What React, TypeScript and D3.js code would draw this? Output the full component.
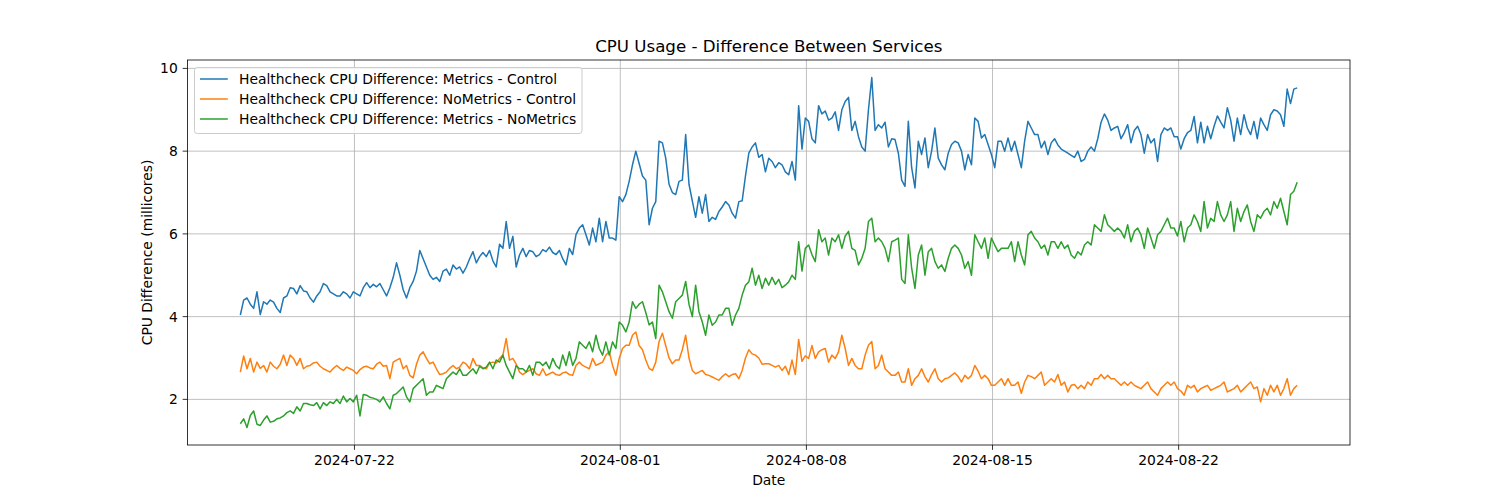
import React, { useEffect, useRef } from 'react';
import * as d3 from 'd3';

const width = 1500;
const height = 500;
const margin = { left: 187.5, right: 150, top: 60, bottom: 55 };

// one sample every 3 hours, first one 2024-07-17 17:00 UTC
const startTime = Date.UTC(2024, 6, 17, 17);
const stepMs = 3 * 3600 * 1000;

const metricsControl = [
  4.04, 4.4, 4.45, 4.3, 4.2, 4.6, 4.05, 4.36, 4.3, 4.4,
  4.35, 4.2, 4.1, 4.45, 4.5, 4.7, 4.68, 4.55, 4.75, 4.62,
  4.6, 4.45, 4.35, 4.5, 4.6, 4.8, 4.75, 4.6, 4.55, 4.5,
  4.5, 4.6, 4.55, 4.45, 4.6, 4.55, 4.5, 4.7,
  4.82, 4.7, 4.78, 4.72, 4.8, 4.65, 4.5, 4.7, 4.95, 5.3,
  5.0, 4.65, 4.45, 4.7, 4.85, 5.1, 5.6, 5.4, 5.2, 5.0,
  4.9, 4.95, 4.85, 5.1, 5.15, 5.0, 5.25, 5.15, 5.2, 5.05,
  5.2, 5.4, 5.57, 5.3, 5.45, 5.55, 5.45, 5.6, 5.35, 5.2,
  5.75, 5.65, 6.3, 5.65, 5.94, 5.2, 5.49, 5.65, 5.45, 5.6,
  5.57, 5.45, 5.5, 5.62, 5.57, 5.68, 5.55, 5.5, 5.6, 5.4,
  5.25, 5.65, 5.5, 5.98, 6.14, 6.22, 5.98, 5.73, 6.14, 5.81,
  6.38, 5.81, 6.3, 5.9, 5.9, 5.85, 6.9, 6.78, 6.95, 7.27,
  7.67, 8.0,
  7.7, 7.4, 7.3, 6.22, 6.62, 6.78, 8.24, 8.2, 7.83, 7.2,
  7.0, 6.95, 7.27, 7.3, 8.4, 7.2, 6.8, 6.4, 6.9, 6.5,
  6.95, 6.3, 6.4, 6.35, 6.54, 6.65, 6.78, 6.7, 6.5, 6.38,
  6.78, 6.8, 7.4, 7.95, 8.1, 8.2, 7.85, 7.92, 7.5, 7.83,
  7.75, 7.6, 7.72, 7.67, 7.5, 7.43, 7.75, 7.3, 9.1, 8.05,
  8.8, 8.72, 8.3, 8.2, 9.1, 8.9, 8.97, 8.75, 8.8, 8.95,
  8.5, 9.0, 9.2, 9.3, 8.5, 8.72, 8.35, 8.1, 8.0, 9.0,
  9.78, 8.5, 8.64, 8.56, 8.7, 8.1, 8.3, 8.28, 7.95, 7.3,
  7.15, 8.72, 7.6, 7.11, 8.24, 7.92, 8.32, 7.6, 8.0, 8.56,
  7.83, 7.67, 7.55, 7.95, 8.16, 8.24, 8.2, 8.0, 7.55, 7.92,
  7.67, 8.8, 8.72, 8.32, 8.4, 8.16, 7.92, 7.6, 8.24, 8.24,
  8.0, 8.32, 8.0, 8.24, 7.92, 7.6, 8.24, 8.72, 8.56, 8.4,
  8.4, 8.08, 8.24, 7.92, 8.2, 8.3, 8.15, 8.05, 8.0, 7.95,
  7.9, 7.85, 8.0, 7.75, 7.8, 8.0, 8.1, 8.0, 8.3, 8.7,
  8.9, 8.75, 8.5, 8.56, 8.6, 8.3, 8.45, 8.64, 8.2, 8.5,
  8.6, 8.4, 7.95, 8.4, 8.2, 8.3, 7.75, 8.4, 8.56, 8.5,
  8.56, 8.35,
  8.35, 8.05, 8.3, 8.45, 8.5, 8.84, 8.2, 8.7, 8.2, 8.6,
  8.3, 8.6, 8.85, 8.7, 8.56, 9.05, 8.75, 8.24, 8.8, 8.4,
  8.88, 8.56, 8.4, 8.72, 8.3, 8.8, 8.64, 8.5, 8.88, 9.0,
  8.97, 8.88, 8.6, 9.5, 9.15, 9.5, 9.53,
];

const noMetricsControl = [
  2.66, 3.05, 2.74, 2.99, 2.66, 2.9, 2.75, 2.82, 2.66, 2.9,
  2.8, 2.74, 2.85, 3.07, 2.82, 3.07, 2.99, 2.82, 2.99, 2.74,
  2.8, 2.82, 2.88, 2.9, 2.8, 2.74, 2.7, 2.66, 2.75, 2.82,
  2.75, 2.7, 2.78, 2.74, 2.7, 2.62, 2.72, 2.78,
  2.8, 2.76, 2.74, 2.85, 2.9, 2.8, 2.82, 2.5, 2.9, 2.95,
  2.99, 2.74, 2.82, 2.58, 2.52, 2.85, 3.07, 3.15, 2.99, 2.86,
  2.9, 2.74, 2.6, 2.62, 2.66, 2.75, 2.82, 2.74, 2.78, 2.9,
  2.85, 2.74, 2.99, 2.82, 2.82, 2.76, 2.74, 2.88, 2.9, 2.88,
  2.99, 3.07, 3.47, 2.95, 2.99, 2.85, 2.66, 2.6, 2.66, 2.7,
  2.74, 2.62, 2.58, 2.74, 2.58, 2.62, 2.66, 2.6, 2.58, 2.64,
  2.66, 2.6, 2.58, 2.82, 2.9, 2.82, 2.78, 2.74, 2.99, 2.82,
  2.86, 2.9, 3.07, 3.15, 2.82, 2.58, 2.99, 3.23, 3.31, 3.31,
  3.55, 3.63,
  3.3, 3.2, 2.95, 2.75, 2.7, 2.9, 3.4, 3.6, 3.3, 3.0,
  2.86, 2.95, 2.95, 3.2, 3.55, 3.0, 2.7, 2.62, 2.66, 2.7,
  2.6, 2.58, 2.54, 2.5, 2.46, 2.55, 2.62, 2.55, 2.6, 2.62,
  2.5, 2.7, 3.0, 3.2, 3.1, 3.07, 3.0, 2.85, 2.86, 2.86,
  2.82, 2.78, 2.82, 2.7, 2.8, 2.6, 2.95, 2.6, 3.45, 2.92,
  3.05, 2.99, 3.3, 2.99, 3.15, 3.2, 3.23, 2.9, 3.07, 2.99,
  3.15, 3.55, 3.23, 2.82, 2.99, 2.82, 2.74, 2.74, 3.07, 3.31,
  3.4, 2.74, 2.82, 3.07, 2.74, 2.66, 2.58, 2.58, 2.66, 2.42,
  2.42, 2.74, 2.34, 2.5, 2.58, 2.74, 2.55, 2.42, 2.6, 2.74,
  2.5, 2.42, 2.5, 2.52, 2.58, 2.64, 2.55, 2.42, 2.58, 2.5,
  2.58, 2.82, 2.68, 2.5, 2.58, 2.5, 2.34, 2.34, 2.42, 2.5,
  2.34, 2.5, 2.34, 2.34, 2.42, 2.15, 2.42, 2.58, 2.55, 2.5,
  2.58, 2.66, 2.34, 2.42, 2.5, 2.42, 2.6, 2.34, 2.42, 2.18,
  2.34, 2.36, 2.26, 2.34, 2.26, 2.42, 2.34, 2.5, 2.5, 2.6,
  2.5, 2.58, 2.5, 2.5, 2.42, 2.34, 2.42, 2.34, 2.42, 2.34,
  2.3, 2.26, 2.34, 2.42, 2.26, 2.18, 2.1, 2.26, 2.34, 2.42,
  2.34, 2.42,
  2.26, 2.2, 2.1, 2.34, 2.28, 2.34, 2.18, 2.26, 2.3, 2.34,
  2.22, 2.26, 2.3, 2.34, 2.42, 2.18, 2.22, 2.26, 2.34, 2.18,
  2.26, 2.34, 2.42, 2.26, 2.3, 1.94, 2.26, 2.1, 2.34, 2.18,
  2.34, 2.1, 2.26, 2.5, 2.1, 2.26, 2.34,
];

const metricsNoMetrics = [
  1.41, 1.53, 1.32, 1.61, 1.72, 1.4, 1.37, 1.5, 1.6, 1.45,
  1.47, 1.53, 1.55, 1.6, 1.68, 1.72, 1.66, 1.82, 1.72, 1.9,
  1.9, 1.87, 1.85, 1.92, 1.77, 1.92, 1.85, 1.94, 1.9, 2.0,
  1.9, 2.08, 1.94, 2.02, 1.94, 2.1, 1.6, 2.12,
  2.1, 2.05, 2.03, 2.0, 1.94, 2.06, 1.9, 1.77, 2.1, 2.14,
  2.22, 2.3, 2.06, 1.94, 2.26, 2.34, 2.42, 2.5, 2.1, 2.18,
  2.18, 2.34, 2.3, 2.26, 2.5, 2.58, 2.66, 2.6, 2.74, 2.58,
  2.58, 2.66, 2.74, 2.62, 2.8, 2.74, 2.78, 2.9, 2.74, 2.95,
  2.9, 3.07, 2.82, 2.66, 2.5, 2.82, 2.74, 2.74, 2.66, 2.82,
  2.58, 2.9, 2.9, 2.82, 2.9, 2.74, 2.99, 2.82, 2.74, 3.07,
  2.82, 3.15, 2.82, 2.99, 3.39, 3.31, 3.23, 3.39, 3.15, 3.55,
  3.23, 3.07, 3.39, 3.07, 3.39, 3.23, 3.87, 3.79, 3.63, 3.87,
  4.36, 4.2,
  4.3, 4.36, 4.1, 3.8, 3.87, 3.47, 4.76, 4.6, 4.36, 4.12,
  3.96, 4.36, 4.44, 4.52, 4.85, 4.3, 4.0, 4.76, 4.12, 3.87,
  3.55, 4.04, 3.79, 3.87, 4.04, 4.04, 4.2, 4.2, 3.79, 4.04,
  4.2, 4.52, 4.76, 4.84, 5.17, 4.76, 5.0, 4.68, 4.93, 4.76,
  4.95, 4.78, 4.9, 4.7, 4.76, 4.84, 5.0, 4.9, 5.81, 5.1,
  5.65, 5.73, 5.5, 5.33, 6.1, 5.81, 5.9, 5.49, 5.9, 5.81,
  5.98, 5.65, 5.95, 6.06, 5.65, 5.6, 5.25, 5.41, 5.65, 6.3,
  6.38, 5.81, 5.9, 5.81, 5.65, 5.33, 5.81, 5.85, 5.9, 4.9,
  4.8, 5.98, 5.17, 4.68, 5.49, 5.73, 5.0, 5.57, 5.65, 5.33,
  5.17, 5.25, 5.09, 5.41, 5.65, 5.73, 5.65, 5.49, 5.17, 5.33,
  5.0, 5.98, 5.81, 5.65, 5.9, 5.41, 5.9, 5.73, 5.57, 5.65,
  5.65, 5.65, 5.81, 5.33, 5.81, 5.49, 5.25, 5.98, 6.06, 5.9,
  5.81, 5.65, 5.73, 5.49, 5.81, 5.81, 5.65, 5.81, 5.65, 5.73,
  5.49, 5.41, 5.57, 5.49, 5.73, 5.81, 5.73, 6.22, 6.14, 6.06,
  6.46, 6.22, 6.14, 6.06, 6.14, 6.06, 5.9, 6.22, 5.81, 6.06,
  6.14, 5.98, 5.65, 6.14, 5.9, 5.65, 5.98, 6.06, 6.22, 6.38,
  6.14, 6.14,
  5.95, 6.3, 5.81, 6.14, 6.22, 6.46, 6.3, 6.06, 6.78, 6.14,
  6.38, 6.3, 6.78, 6.46, 6.3, 6.46, 6.78, 6.06, 6.62, 6.3,
  6.54, 6.7, 6.3, 6.06, 6.46, 6.38, 6.54, 6.62, 6.46, 6.78,
  6.62, 6.86, 6.54, 6.22, 6.95, 7.03, 7.25,
];

const seriesLabels = [
  'Healthcheck CPU Difference: Metrics - Control',
  'Healthcheck CPU Difference: NoMetrics - Control',
  'Healthcheck CPU Difference: Metrics - NoMetrics',
];
const seriesColors = ['#1f77b4', '#ff7f0e', '#2ca02c'];
const xTickLabels = ['2024-07-22', '2024-08-01', '2024-08-08', '2024-08-15', '2024-08-22'];
const yTickValues = [2, 4, 6, 8, 10];

export default function App() {
  const ref = useRef<SVGSVGElement>(null);

  useEffect(() => {
    const svg = d3.select(ref.current);
    svg.selectAll('*').remove();

    const series = [metricsControl, noMetricsControl, metricsNoMetrics];
    const times = metricsControl.map((_, i) => startTime + i * stepMs);

    // matplotlib style 5% margins
    const t0 = times[0], t1 = times[times.length - 1];
    const xPad = (t1 - t0) * 0.05;
    const all = series.flat();
    const yMin = d3.min(all) as number, yMax = d3.max(all) as number;
    const yPad = (yMax - yMin) * 0.05;

    const x = d3.scaleUtc()
      .domain([new Date(t0 - xPad), new Date(t1 + xPad)])
      .range([margin.left, width - margin.right]);
    const y = d3.scaleLinear()
      .domain([yMin - yPad, yMax + yPad])
      .range([height - margin.bottom, margin.top]);

    const left = margin.left, right = width - margin.right;
    const top = margin.top, bottom = height - margin.bottom;
    const tickDates = xTickLabels.map(s => new Date(s + 'T00:00:00Z'));

    svg.append('rect').attr('width', width).attr('height', height).attr('fill', '#fff');

    // grid
    const grid = svg.append('g').attr('stroke', '#b0b0b0').attr('stroke-width', 0.8);
    tickDates.forEach(d => {
      grid.append('line').attr('x1', x(d)).attr('x2', x(d)).attr('y1', top).attr('y2', bottom);
    });
    yTickValues.forEach(v => {
      grid.append('line').attr('x1', left).attr('x2', right).attr('y1', y(v)).attr('y2', y(v));
    });

    // lines
    const line = d3.line<number>()
      .x((_, i) => x(new Date(times[i])))
      .y(d => y(d));
    series.forEach((s, k) => {
      svg.append('path')
        .datum(s)
        .attr('d', line)
        .attr('fill', 'none')
        .attr('stroke', seriesColors[k])
        .attr('stroke-width', 1.5)
        .attr('stroke-linejoin', 'round');
    });

    // spines
    svg.append('rect')
      .attr('x', left).attr('y', top)
      .attr('width', right - left).attr('height', bottom - top)
      .attr('fill', 'none').attr('stroke', '#000').attr('stroke-width', 0.8);

    const fontSize = 13.89;

    // x ticks
    const xt = svg.append('g');
    tickDates.forEach((d, i) => {
      xt.append('line').attr('x1', x(d)).attr('x2', x(d)).attr('y1', bottom).attr('y2', bottom + 4.86)
        .attr('stroke', '#000').attr('stroke-width', 0.8);
      xt.append('text').attr('x', x(d)).attr('y', bottom + 9.72).attr('dy', '0.76em')
        .attr('text-anchor', 'middle').attr('font-size', fontSize).attr('fill', '#000')
        .text(xTickLabels[i]);
    });

    // y ticks
    const yt = svg.append('g');
    yTickValues.forEach(v => {
      yt.append('line').attr('x1', left - 4.86).attr('x2', left).attr('y1', y(v)).attr('y2', y(v))
        .attr('stroke', '#000').attr('stroke-width', 0.8);
      yt.append('text').attr('x', left - 9.72).attr('y', y(v)).attr('dy', '0.36em')
        .attr('text-anchor', 'end').attr('font-size', fontSize).attr('fill', '#000')
        .text(String(v));
    });

    // title and axis labels
    svg.append('text').attr('x', (left + right) / 2).attr('y', top - 8.3)
      .attr('text-anchor', 'middle').attr('font-size', 16.67).attr('fill', '#000')
      .text('CPU Usage - Difference Between Services');
    svg.append('text').attr('x', (left + right) / 2).attr('y', 485)
      .attr('text-anchor', 'middle').attr('font-size', fontSize).attr('fill', '#000')
      .text('Date');
    svg.append('text')
      .attr('transform', `translate(152,${(top + bottom) / 2}) rotate(-90)`)
      .attr('text-anchor', 'middle').attr('font-size', fontSize).attr('fill', '#000')
      .text('CPU Difference (millicores)');

    // legend
    const lg = svg.append('g').attr('transform', `translate(${left + 7},${top + 7.5})`);
    lg.append('rect').attr('width', 387.5).attr('height', 66).attr('rx', 2.8)
      .attr('fill', '#fff').attr('fill-opacity', 0.8)
      .attr('stroke', '#cccccc').attr('stroke-width', 1);
    seriesLabels.forEach((label, k) => {
      const cy = 11.5 + k * 20;
      lg.append('line').attr('x1', 5.5).attr('x2', 33.3).attr('y1', cy).attr('y2', cy)
        .attr('stroke', seriesColors[k]).attr('stroke-width', 1.5);
      lg.append('text').attr('x', 44.5).attr('y', cy).attr('dy', '0.36em')
        .attr('font-size', fontSize).attr('fill', '#000').text(label);
    });
  }, []);

  return (
    <svg
      ref={ref}
      width={width}
      height={height}
      style={{ position: 'absolute', left: 0, top: 0, fontFamily: 'DejaVu Sans' }}
    />
  );
}
